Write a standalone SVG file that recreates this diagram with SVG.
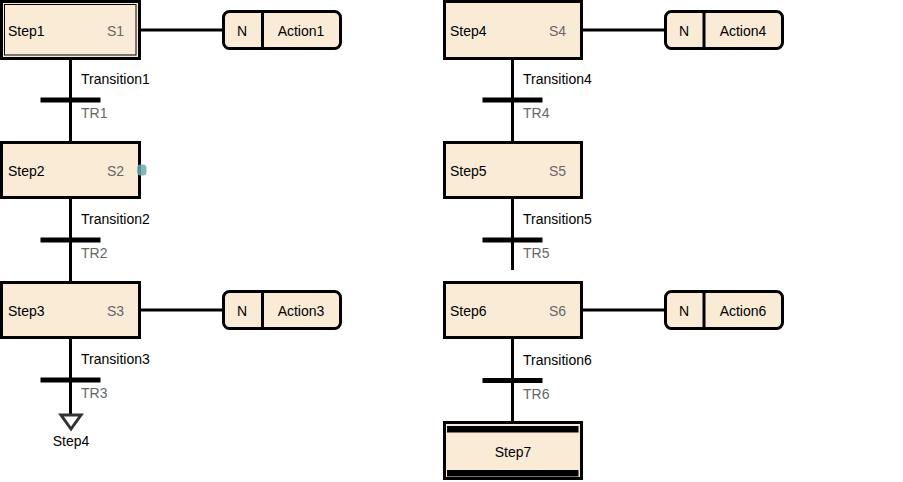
<svg xmlns="http://www.w3.org/2000/svg" width="903" height="482" viewBox="0 0 903 482">
<style>
text{font-family:"Liberation Sans",Arial,sans-serif;font-size:14px;fill:#000}
.lbl{fill:#666}
.mid{text-anchor:middle}
.step{fill:#FAEBD7;stroke:#000;stroke-width:3}
.inner{fill:none;stroke:#000;stroke-width:1}
.act{fill:#FAEBD7;stroke:#000;stroke-width:3}
.ln{stroke:#000;stroke-width:3;fill:none}
.bar{fill:#000}
</style>
<rect width="903" height="482" fill="#fff"/>
<g id="connectors">
<line class="ln" x1="70.5" y1="59" x2="70.5" y2="142"/>
<line class="ln" x1="70.5" y1="198" x2="70.5" y2="282"/>
<line class="ln" x1="70.5" y1="338" x2="70.5" y2="415"/>
<line class="ln" x1="512.5" y1="59" x2="512.5" y2="142"/>
<line class="ln" x1="512.5" y1="198" x2="512.5" y2="270"/>
<line class="ln" x1="512.5" y1="338" x2="512.5" y2="422"/>
<line class="ln" x1="140" y1="30" x2="223" y2="30"/>
<line class="ln" x1="140" y1="310" x2="223" y2="310"/>
<line class="ln" x1="581" y1="30" x2="665" y2="30"/>
<line class="ln" x1="581" y1="310" x2="665" y2="310"/>
<polygon points="61,415 81,415 71,429" fill="#fff" stroke="#333" stroke-width="3" stroke-linejoin="miter"/>
<text x="71" y="446" class="mid">Step4</text>
</g>
<g id="tr1"><rect class="bar" x="40.5" y="97.5" width="60" height="5"/><text x="81" y="84">Transition1</text><text x="81" y="118" class="lbl">TR1</text></g>
<g id="tr2"><rect class="bar" x="40.5" y="237.5" width="60" height="5"/><text x="81" y="224">Transition2</text><text x="81" y="258" class="lbl">TR2</text></g>
<g id="tr3"><rect class="bar" x="40.5" y="377.5" width="60" height="5"/><text x="81" y="364">Transition3</text><text x="81" y="398" class="lbl">TR3</text></g>
<g id="tr4"><rect class="bar" x="482.5" y="97.5" width="60" height="5"/><text x="523" y="84">Transition4</text><text x="523" y="118" class="lbl">TR4</text></g>
<g id="tr5"><rect class="bar" x="482.5" y="237.5" width="60" height="5"/><text x="523" y="224">Transition5</text><text x="523" y="258" class="lbl">TR5</text></g>
<g id="tr6"><rect class="bar" x="482.5" y="378" width="60" height="5"/><text x="523" y="365">Transition6</text><text x="523" y="399" class="lbl">TR6</text></g>
<g id="step1"><rect class="step" x="1.5" y="1.5" width="138" height="57"/><rect class="inner" x="4.5" y="4.5" width="131.5" height="50.5"/><text x="8" y="36">Step1</text><text x="107" y="36" class="lbl">S1</text></g>
<g id="step2"><rect class="step" x="1.5" y="142.5" width="138" height="55"/><text x="8" y="176">Step2</text><text x="107" y="176" class="lbl">S2</text><rect x="137" y="164.5" width="9.5" height="11" rx="3.5" fill="#6fa9aa" fill-opacity="0.85"/></g>
<g id="step3"><rect class="step" x="1.5" y="282.5" width="138" height="55"/><text x="8" y="316">Step3</text><text x="107" y="316" class="lbl">S3</text></g>
<g id="step4"><rect class="step" x="444.5" y="1.5" width="137" height="57"/><text x="450" y="36">Step4</text><text x="549" y="36" class="lbl">S4</text></g>
<g id="step5"><rect class="step" x="444.5" y="142.5" width="137" height="55"/><text x="450" y="176">Step5</text><text x="549" y="176" class="lbl">S5</text></g>
<g id="step6"><rect class="step" x="444.5" y="282.5" width="137" height="55"/><text x="450" y="316">Step6</text><text x="549" y="316" class="lbl">S6</text></g>
<g id="step7"><rect class="step" x="444.5" y="422.5" width="137" height="56"/><rect class="bar" x="447" y="426" width="131.5" height="6.5"/><rect class="bar" x="447" y="470" width="131.5" height="6.5"/><text x="513" y="457" class="mid">Step7</text></g>
<g id="action1"><rect class="act" x="223.5" y="11.5" width="117" height="37" rx="6"/><line class="ln" x1="262.5" y1="11.5" x2="262.5" y2="48.5"/><text x="242" y="36" class="mid">N</text><text x="301" y="36" class="mid">Action1</text></g>
<g id="action3"><rect class="act" x="223.5" y="291.5" width="117" height="37" rx="6"/><line class="ln" x1="262.5" y1="291.5" x2="262.5" y2="328.5"/><text x="242" y="316" class="mid">N</text><text x="301" y="316" class="mid">Action3</text></g>
<g id="action4"><rect class="act" x="665.5" y="11.5" width="117" height="37" rx="6"/><line class="ln" x1="704" y1="11.5" x2="704" y2="48.5"/><text x="684" y="36" class="mid">N</text><text x="743" y="36" class="mid">Action4</text></g>
<g id="action6"><rect class="act" x="665.5" y="291.5" width="117" height="37" rx="6"/><line class="ln" x1="704" y1="291.5" x2="704" y2="328.5"/><text x="684" y="316" class="mid">N</text><text x="743" y="316" class="mid">Action6</text></g>
</svg>
